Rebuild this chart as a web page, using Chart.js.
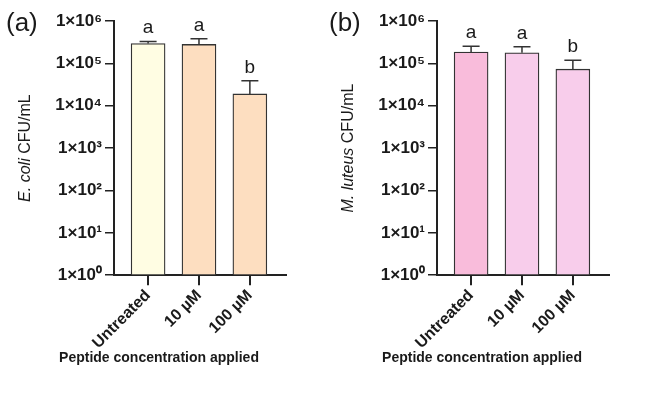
<!DOCTYPE html>
<html><head><meta charset="utf-8">
<script src="https://cdn.jsdelivr.net/npm/chart.js@4.4.0/dist/chart.umd.min.js"></script>
<style>
html,body{margin:0;padding:0;background:#fff;}
#wrap{position:relative;width:647px;height:398px;overflow:hidden;background:#fff;}
.panel{position:absolute;top:0;height:398px;}
</style></head><body>
<div id="wrap">
  <div class="panel" style="left:0;width:323px"><canvas id="ca"></canvas></div>
  <div class="panel" style="left:323px;width:324px"><canvas id="cb"></canvas></div>
</div>
<script>
// ---- data ----
const categories = ['Untreated', '10 µM', '100 µM'];
const yTickValues = [1, 10, 100, 1000, 10000, 100000, 1000000];
const supDigits = ['⁰','¹','²','³','⁴','⁵','⁶'];
const ecoliMeans = [2.95e5, 2.8e5, 1.9e4];
const ecoliErrTop = [3.3e5, 3.8e5, 3.9e4];
const ecoliLetters = ['a', 'a', 'b'];
const ecoliColors = ['#FFFDE3', '#FDDEC0', '#FDDEC0'];
const luteusMeans = [1.85e5, 1.78e5, 7.3e4];
const luteusErrTop = [2.55e5, 2.47e5, 1.18e5];
const luteusLetters = ['a', 'a', 'b'];
const luteusColors = ['#F9BCDB', '#F8CDEB', '#F8CDEB'];
const xTitle = 'Peptide concentration applied';

const FONT = 'Arial, "Liberation Sans", sans-serif';
const INK = '#1a1a1a';

function decorPlugin(panelLabel, italicPart, restPart, errTop, letters) {
  return {
    id: 'decor',
    afterDatasetsDraw(chart) {
      const ctx = chart.ctx;
      const meta = chart.getDatasetMeta(0);
      const ys = chart.scales.y;
      ctx.save();
      ctx.strokeStyle = '#333';
      ctx.lineWidth = 1.5;
      meta.data.forEach((bar, i) => {
        const x = bar.x;
        const yb = bar.y;
        const yt = ys.getPixelForValue(errTop[i]);
        ctx.beginPath();
        ctx.moveTo(x, yb); ctx.lineTo(x, yt);
        ctx.moveTo(x - 8.5, yt); ctx.lineTo(x + 8.5, yt);
        ctx.stroke();
        ctx.fillStyle = INK;
        ctx.font = '19px ' + FONT;
        ctx.textAlign = 'center';
        ctx.textBaseline = 'alphabetic';
        ctx.fillText(letters[i], x, yt - 8);
      });
      ctx.restore();
    },
    afterDraw(chart) {
      const ctx = chart.ctx;
      const area = chart.chartArea;
      ctx.save();
      ctx.fillStyle = INK;
      ctx.font = '26px ' + FONT;
      ctx.textAlign = 'left';
      ctx.textBaseline = 'alphabetic';
      ctx.fillText(panelLabel, 6, 31);
      // y axis title with italic species name
      ctx.translate(26, (area.top + area.bottom) / 2);
      ctx.rotate(-Math.PI / 2);
      const f1 = 'italic 16px ' + FONT, f2 = '16px ' + FONT;
      ctx.font = f1; const w1 = ctx.measureText(italicPart).width;
      ctx.font = f2; const w2 = ctx.measureText(restPart).width;
      const x0 = -(w1 + w2) / 2;
      ctx.textBaseline = 'middle';
      ctx.font = f1; ctx.fillText(italicPart, x0, 0);
      ctx.font = f2; ctx.fillText(restPart, x0 + w1, 0);
      ctx.restore();
    }
  };
}

function makeChart(id, means, colors, errTop, letters, label, italicPart, restPart, rightPad) {
  return new Chart(document.getElementById(id), {
    type: 'bar',
    data: {
      datasets: [{
        data: means.map((v, i) => ({ x: i, y: v })),
        backgroundColor: colors,
        borderColor: '#333',
        borderWidth: 1.3,
        borderSkipped: false,
        barThickness: 34
      }]
    },
    options: {
      responsive: true,
      maintainAspectRatio: false,
      animation: false,
      layout: { padding: { top: 21, right: rightPad, left: 32, bottom: 31 } },
      plugins: {
        legend: { display: false },
        tooltip: { enabled: false },
        title: {
          display: true, position: 'bottom', text: xTitle, color: INK,
          font: { family: FONT, size: 14, weight: 'bold' },
          padding: { top: 0, bottom: 0 }
        }
      },
      scales: {
        x: {
          type: 'linear',
          offset: false,
          min: -0.67, max: 2.71,
          afterBuildTicks: s => { s.ticks = categories.map((c, i) => ({ value: i })); },
          afterFit: s => { s.height = 75; },
          ticks: {
            autoSkip: false, minRotation: 45, maxRotation: 45,
            color: INK, padding: 1,
            font: { family: FONT, size: 16, weight: 'bold' },
            callback: v => categories[v]
          },
          grid: { offset: false, drawOnChartArea: false, drawTicks: true, tickLength: 10, color: '#222', lineWidth: 2 },
          border: { display: true, color: '#222', width: 2 }
        },
        y: {
          type: 'logarithmic',
          min: 1, max: 1e6,
          afterBuildTicks: s => { s.ticks = yTickValues.map(v => ({ value: v })); },
          afterFit: s => { s.width = 82; },
          ticks: {
            color: INK, padding: 3,
            font: { family: FONT, size: 17, weight: 'bold' },
            callback: v => '1×10' + supDigits[Math.round(Math.log10(v))]
          },
          grid: { drawOnChartArea: false, drawTicks: true, tickLength: 9, color: '#222', lineWidth: 1.5 },
          border: { display: true, color: '#222', width: 2 }
        }
      }
    },
    plugins: [decorPlugin(label, italicPart, restPart, errTop, letters)]
  });
}

makeChart('ca', ecoliMeans, ecoliColors, ecoliErrTop, ecoliLetters, '(a)', 'E. coli', ' CFU/mL', 37);
makeChart('cb', luteusMeans, luteusColors, luteusErrTop, luteusLetters, '(b)', 'M. luteus', ' CFU/mL', 38);
</script>
</body></html>
